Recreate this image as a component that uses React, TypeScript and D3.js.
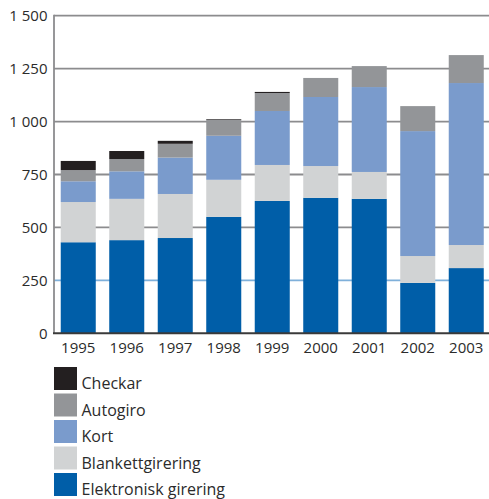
import React from "react";
import * as d3 from "d3";

const years = ["1995", "1996", "1997", "1998", "1999", "2000", "2001", "2002", "2003"];
const elektronisk = [430, 440, 450, 550, 625, 640, 635, 238, 308];
const blankett = [190, 195, 208, 175, 170, 150, 127, 127, 109];
const kort = [98, 130, 172, 208, 255, 326, 401, 590, 765];
const autogiro = [53, 58, 65, 76, 85, 90, 99, 118, 132];
const checkar = [43, 38, 14, 3, 5, 0, 0, 0, 0];
const yTicks = [0, 250, 500, 750, 1000, 1250, 1500];

const seriesKeys = ["Elektronisk girering", "Blankettgirering", "Kort", "Autogiro", "Checkar"];
const seriesColors = ["#005ea8", "#d1d3d4", "#7a9bcc", "#939598", "#231f20"];

const W = 489;
const H = 499;
const left = 54;
const right = 489;
const top = 15.7;
const bottom = 333.3;
const font = "'Open Sans', sans-serif";

export default function App() {
  const rows = years.map((y, i) => ({
    year: y,
    "Elektronisk girering": elektronisk[i],
    Blankettgirering: blankett[i],
    Kort: kort[i],
    Autogiro: autogiro[i],
    Checkar: checkar[i],
  }));
  const stack = d3.stack<any>().keys(seriesKeys)(rows);
  const x = d3.scaleBand().domain(years).range([left, left + 9 * 48.5]).paddingInner(0.278).paddingOuter(0.139);
  const y = d3.scaleLinear().domain([0, 1500]).range([bottom, top]);
  const fmt = (v: number) => d3.format(",")(v).replace(",", " ");

  const legendItems = [...seriesKeys].reverse();
  const legendColors = [...seriesColors].reverse();

  return (
    <svg width={W} height={H} style={{ position: "absolute", left: 0, top: 0 }}>
      <rect width={W} height={H} fill="#fff" />
      {yTicks.map((t) => (
        <g key={t}>
          {t > 0 && (
            <line x1={left} x2={right} y1={y(t)} y2={y(t)} stroke={t === 250 ? "#7fb0da" : "#8c8c8e"} strokeWidth={1.8} />
          )}
          <text x={47.5} y={y(t)} dy="0.35em" textAnchor="end" fontFamily={font} fontSize={15} fill="#2b2b2b">
            {fmt(t)}
          </text>
        </g>
      ))}
      {stack.map((s, si) => (
        <g key={seriesKeys[si]} fill={seriesColors[si]}>
          {s.map((d, i) =>
            d[1] - d[0] > 0 ? (
              <rect key={i} x={x(years[i])} width={x.bandwidth()} y={y(d[1])} height={y(d[0]) - y(d[1])} />
            ) : null
          )}
        </g>
      ))}
      <line x1={left} x2={left} y1={top - 1} y2={bottom} stroke="#8c8c8e" strokeWidth={1.8} />
      <line x1={left - 1} x2={right} y1={bottom} y2={bottom} stroke="#3a3a3a" strokeWidth={2} />
      {years.map((yr) => (
        <text key={yr} x={(x(yr) as number) + x.bandwidth() / 2} y={353} textAnchor="middle" fontFamily={font} fontSize={15} fill="#2b2b2b">
          {yr}
        </text>
      ))}
      {legendItems.map((k, i) => (
        <g key={k} transform={`translate(54, ${367 + i * 26.5})`}>
          <rect width={23} height={23} fill={legendColors[i]} />
          <text x={27.5} y={22} fontFamily={font} fontSize={16} fill="#2b2b2b">
            {k}
          </text>
        </g>
      ))}
    </svg>
  );
}
